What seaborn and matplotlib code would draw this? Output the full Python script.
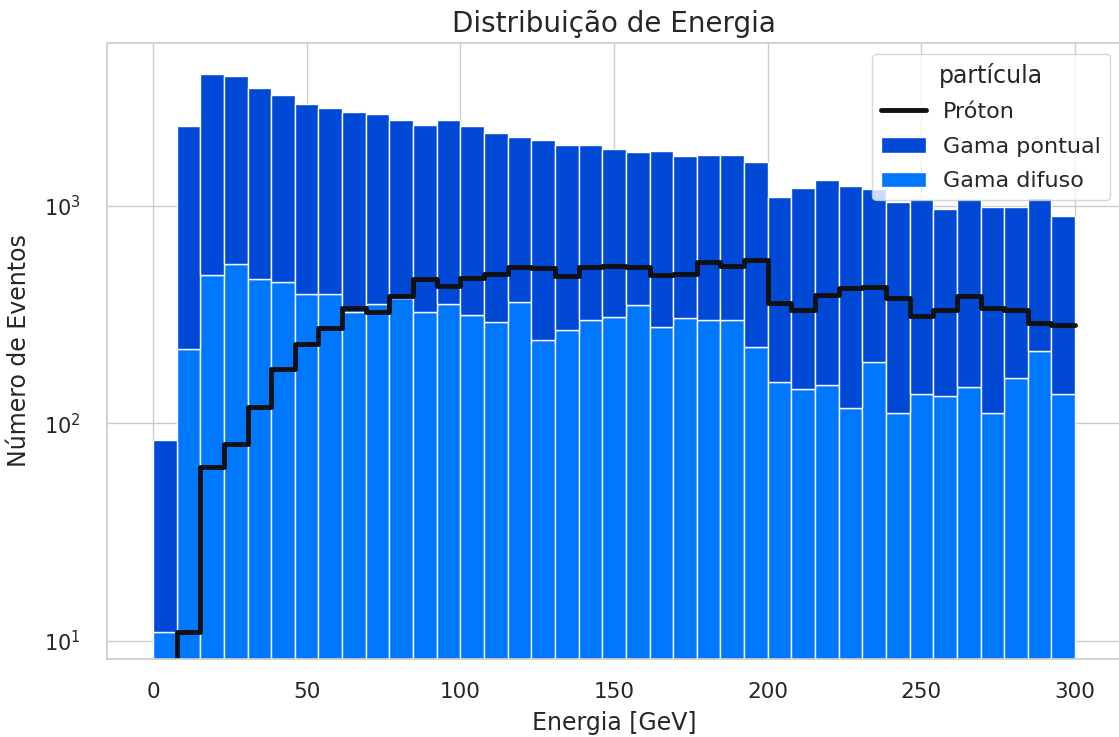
import matplotlib
matplotlib.use("Agg")
import matplotlib.pyplot as plt
import numpy as np
import pandas as pd
import seaborn as sns
from matplotlib.lines import Line2D
from matplotlib.patches import Patch

# 39 bins between 0 and 300 GeV
n_bins = 39
bin_edges = np.linspace(0, 300, n_bins + 1)
bin_centers = (bin_edges[:-1] + bin_edges[1:]) / 2

# top of the stacked gamma bars (pontual + difuso)
gama_total = [84, 2333, 4050, 3937, 3475, 3214, 2935, 2805, 2687, 2632,
              2478, 2357, 2478, 2333, 2158, 2060, 1997, 1907, 1907, 1822,
              1766, 1791, 1687, 1718, 1718, 1582, 1096, 1205, 1319, 1226,
              1198, 1040, 1070, 966, 1075, 982, 982, 1080, 899]
gama_difuso = [11, 220, 482, 541, 461, 444, 393, 393, 324, 353,
               377, 323, 354, 313, 291, 361, 242, 269, 299, 308,
               348, 277, 304, 299, 299, 225, 155, 144, 150, 117,
               191, 111, 137, 133, 147, 112, 162, 214, 137]
proton = [0, 11, 63, 80, 119, 178, 231, 274, 340, 325,
          383, 461, 429, 465, 486, 522, 517, 477, 522, 530,
          522, 479, 486, 551, 531, 561, 356, 333, 390, 417,
          423, 375, 311, 330, 385, 337, 331, 288, 283]

gama_pontual = np.array(gama_total) - np.array(gama_difuso)

gama_df = pd.DataFrame({
    'energia': np.concatenate([bin_centers, bin_centers]),
    'peso': np.concatenate([gama_pontual, gama_difuso]),
    'partícula': ['Gama pontual'] * n_bins + ['Gama difuso'] * n_bins,
})
proton_df = pd.DataFrame({'energia': bin_centers, 'peso': proton})

cores = {'Gama pontual': '#0049d6', 'Gama difuso': '#0078fd'}

sns.set_theme(style='whitegrid', font_scale=1.4)
fig = plt.figure(figsize=(11.19, 7.37), dpi=100)
ax = fig.add_axes([0.0955, 0.106, 0.9065, 0.836])
ax.set_yscale('log')

sns.histplot(data=gama_df, x='energia', weights='peso', hue='partícula',
             hue_order=['Gama pontual', 'Gama difuso'], palette=cores,
             multiple='stack', bins=n_bins, binrange=(0, 300), alpha=1,
             edgecolor='white', linewidth=1, legend=False, ax=ax)
sns.histplot(data=proton_df, x='energia', weights='peso', bins=n_bins,
             binrange=(0, 300), element='step', fill=False, color='#111111',
             linewidth=3.5, legend=False, ax=ax)

ax.set_xlim(-15, 315)
ax.set_ylim(8.26, 5610)
ax.set_xticks([0, 50, 100, 150, 200, 250, 300])
ax.tick_params(axis='x', pad=11, labelsize=15.5)
ax.tick_params(axis='y', pad=13, labelsize=15)
ax.set_title('Distribuição de Energia', fontsize=20, pad=8)
ax.set_xlabel('Energia [GeV]', fontsize=17, labelpad=6)
ax.set_ylabel('Número de Eventos', fontsize=17, labelpad=9)

handles = [Line2D([0], [0], color='#111111', lw=3.5),
           Patch(facecolor=cores['Gama pontual']),
           Patch(facecolor=cores['Gama difuso'])]
ax.legend(handles, ['Próton', 'Gama pontual', 'Gama difuso'],
          title='partícula', loc='upper right', fontsize=16, title_fontsize=17,
          labelspacing=0.65)

plt.savefig('out.png', dpi=100)
